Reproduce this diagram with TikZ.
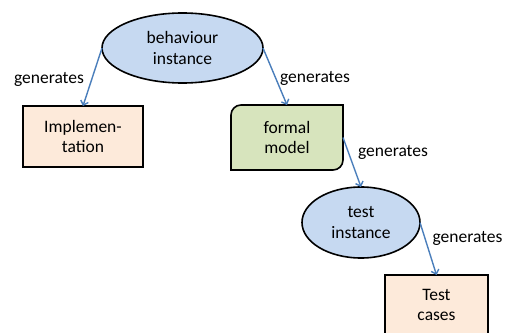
\documentclass[tikz,border=0pt]{standalone}
\usepackage{fontspec}
\setmainfont{Carlito}
\usetikzlibrary{shapes.geometric,arrows.meta,backgrounds}
\definecolor{ellblue}{RGB}{198,217,241}
\definecolor{peach}{RGB}{253,234,218}
\definecolor{fmgreen}{RGB}{215,228,189}
\definecolor{arrblue}{RGB}{74,126,187}
\tikzset{
  lbl/.style={font=\fontsize{17.5}{20.5}\selectfont, text=black, inner sep=0pt, anchor=base},
  txt/.style={font=\fontsize{17.5}{20.5}\selectfont, text=black, align=center, inner sep=0pt, outer sep=0pt},
  ell/.style={txt, ellipse, draw=black, line width=1.6pt, fill=ellblue},
  boxnode/.style={txt, rectangle, draw=black, line width=1.6pt, fill=peach},
  gen/.style={draw=arrblue, line width=1.4pt, -{Straight Barb[length=4pt,width=8pt]}}
}
\begin{document}
\begin{tikzpicture}[x=1pt,y=-1pt]
\useasboundingbox (0,0) rectangle (508,332);
\clip (0,0) rectangle (508,332);
\node[ell, minimum width=161pt, minimum height=70pt] (bi) at (182.5,48) {behaviour\\instance};
\node[boxnode, minimum width=120pt, minimum height=61pt] (impl) at (83,136.5) {Implemen-\\tation};
\node[txt, minimum width=112pt, minimum height=65pt] (fm) at (287,137.5) {formal\\model};
\begin{scope}[on background layer]
\filldraw[draw=black, line width=1.6pt, fill=fmgreen]
  ([yshift=-10pt]fm.north west) arc[start angle=180,end angle=90,radius=10pt]
  -- (fm.north east) -- ([yshift=10pt]fm.south east)
  arc[start angle=0,end angle=-90,radius=10pt]
  -- (fm.south west) -- cycle;
\end{scope}
\node[ell, minimum width=118pt, minimum height=71pt] (ti) at (361,222.5) {test\\instance};
\node[boxnode, minimum width=103pt, minimum height=60pt] (tc) at (436.5,305) {Test\\cases};
\draw[gen] (bi.west) -- (impl.north);
\draw[gen] (bi.east) -- (fm.north);
\draw[gen] (fm.east) -- (ti.north);
\draw[gen] (ti.east) -- (tc.north);
\node[lbl] (l1) at (49,83) {generates};
\node[lbl] (l2) at (315,82.5) {generates};
\node[lbl] (l3) at (393,156) {generates};
\node[lbl] (l4) at (467.5,242) {generates};
\end{tikzpicture}
\end{document}
